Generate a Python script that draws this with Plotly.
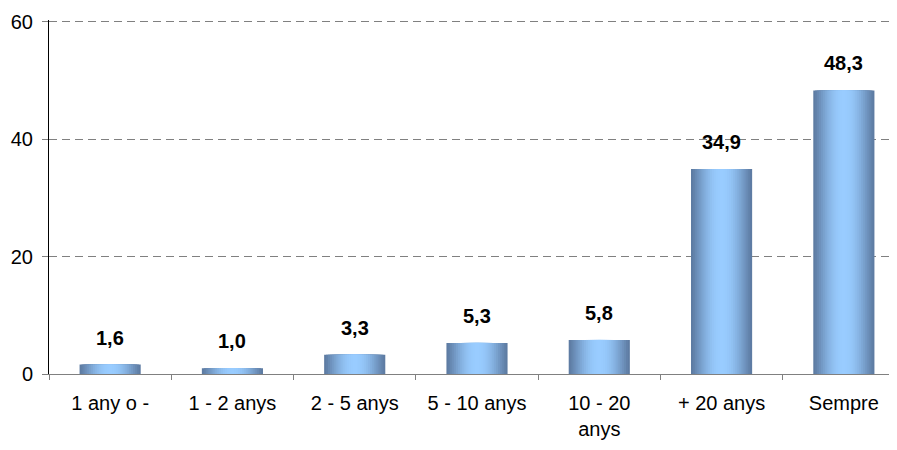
import plotly.graph_objects as go
import numpy as np

categories = ["1 any o -", "1 - 2 anys", "2 - 5 anys", "5 - 10 anys", "10 - 20<br>anys", "+ 20 anys", "Sempre"]
values = [1.6, 1.0, 3.3, 5.3, 5.8, 34.9, 48.3]
labels = [f"{v:.1f}".replace(".", ",") for v in values]

FONT = "Liberation Sans, Arial, sans-serif"
dark = np.array([94, 124, 163])
light = np.array([153, 204, 255])

fig = go.Figure()

# fake the cylinder shading with stacked bars of shrinking width
n_layers = 16
for i in range(n_layers):
    t = i / (n_layers - 1)
    f = np.sin(t * np.pi / 2) ** 1.1
    c = dark + (light - dark) * f
    w = 0.5 * (1 - i / n_layers)
    fig.add_trace(go.Bar(
        x=categories, y=values, width=w,
        marker=dict(color="rgb(%d,%d,%d)" % tuple(c), line=dict(width=0)),
        hoverinfo="skip", showlegend=False,
    ))

for c, v, lab in zip(categories, values, labels):
    fig.add_annotation(x=c, y=v, text="<b>" + lab + "</b>", showarrow=False,
                       yanchor="bottom", yshift=14,
                       font=dict(family=FONT, size=20, color="black"))

# page body adds 8px, so margins are shifted by that
fig.update_layout(
    barmode="overlay",
    width=897, height=450,
    margin=dict(l=41, r=0, t=12, b=84),
    plot_bgcolor="white", paper_bgcolor="white",
    font=dict(family=FONT, size=20, color="black"),
)
fig.update_xaxes(
    range=[-0.5, 6.5], tickson="boundaries", ticks="outside", ticklen=5,
    tickcolor="#808080", showline=True, linecolor="#808080", linewidth=1,
    showgrid=False, tickfont=dict(size=20), automargin=False,
    ticklabelstandoff=11,
)
fig.update_yaxes(
    range=[0, 60.3], tickvals=[0, 20, 40, 60], ticks="outside", ticklen=6,
    tickcolor="#808080", showline=True, linecolor="black", linewidth=1,
    showgrid=True, gridcolor="#808080", griddash="8px,5px", gridwidth=1,
    zeroline=False, tickfont=dict(size=20), automargin=False,
    ticklabelstandoff=5,
)

fig.write_html("out.html")
